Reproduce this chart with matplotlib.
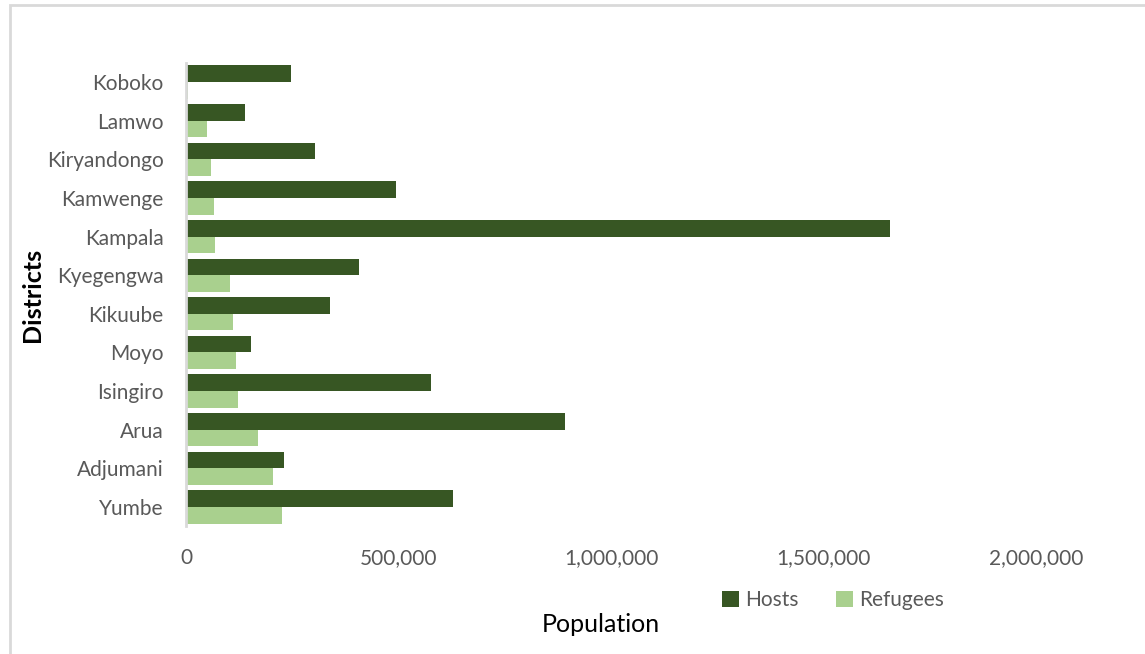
import numpy as np
import matplotlib
matplotlib.use("Agg")
import matplotlib.pyplot as plt
from matplotlib.patches import Rectangle
from matplotlib.ticker import FuncFormatter

# District populations, listed top to bottom as they appear on the chart
districts = ["Koboko", "Lamwo", "Kiryandongo", "Kamwenge", "Kampala", "Kyegengwa",
             "Kikuube", "Moyo", "Isingiro", "Arua", "Adjumani", "Yumbe"]
hosts = [246000, 140000, 304000, 494000, 1656000, 408000,
         340000, 153000, 576000, 892000, 231000, 629000]
refugees = [4000, 49000, 59000, 66000, 68000, 104000,
            110000, 118000, 122000, 169000, 204000, 227000]

host_col = '#375623'
ref_col = '#a9d08e'
tick_col = '#595959'

plt.rcParams['font.family'] = ['Lato', 'DejaVu Sans']

fig = plt.figure(figsize=(11.45, 6.54), dpi=100)
# light grey frame round the chart area
fig.patches.append(Rectangle((10 / 1145, -0.05), 1.2, 1 - 5 / 654 + 0.05, transform=fig.transFigure,
                             fill=False, edgecolor='#d9d9d9', linewidth=2))

ax = fig.add_axes([0.1624, 0.1953, 0.7424, 0.7088])

y = np.arange(len(districts))
h = 0.43
ax.barh(y - h / 2, hosts, height=h, color=host_col, label='Hosts')
ax.barh(y + h / 2, refugees, height=h, color=ref_col, label='Refugees')

ax.set_ylim(len(districts) - 0.5, -0.5)
ax.set_xlim(0, 2000000)
ax.set_xticks([0, 500000, 1000000, 1500000, 2000000])
ax.xaxis.set_major_formatter(FuncFormatter(lambda v, p: f'{int(v):,}'))
ax.set_yticks(y)
ax.set_yticklabels(districts)

for s in ['top', 'right', 'bottom']:
    ax.spines[s].set_visible(False)
ax.spines['left'].set_color('#d9d9d9')
ax.spines['left'].set_linewidth(2)
ax.tick_params(axis='both', length=0, labelsize=15, colors=tick_col)
ax.tick_params(axis='y', pad=16)
ax.tick_params(axis='x', pad=16)

ax.set_xlabel('Population', fontsize=18, color='black')
ax.set_ylabel('Districts', fontsize=18, fontweight='bold', color='black')
ax.xaxis.set_label_coords(601 / 1145, 1 - 624 / 654, transform=fig.transFigure)
ax.yaxis.set_label_coords(33 / 1145, 1 - 295 / 654, transform=fig.transFigure)
ax.xaxis.label.set_va('center')
ax.yaxis.label.set_va('center')

leg = ax.legend(loc='center', bbox_to_anchor=(833 / 1145, 1 - 600 / 654), bbox_transform=fig.transFigure,
                ncol=2, frameon=False, fontsize=15, handlelength=0.8, handleheight=0.8,
                handletextpad=0.3, columnspacing=1.8)
for t in leg.get_texts():
    t.set_color(tick_col)

fig.savefig('out.png', dpi=100)
